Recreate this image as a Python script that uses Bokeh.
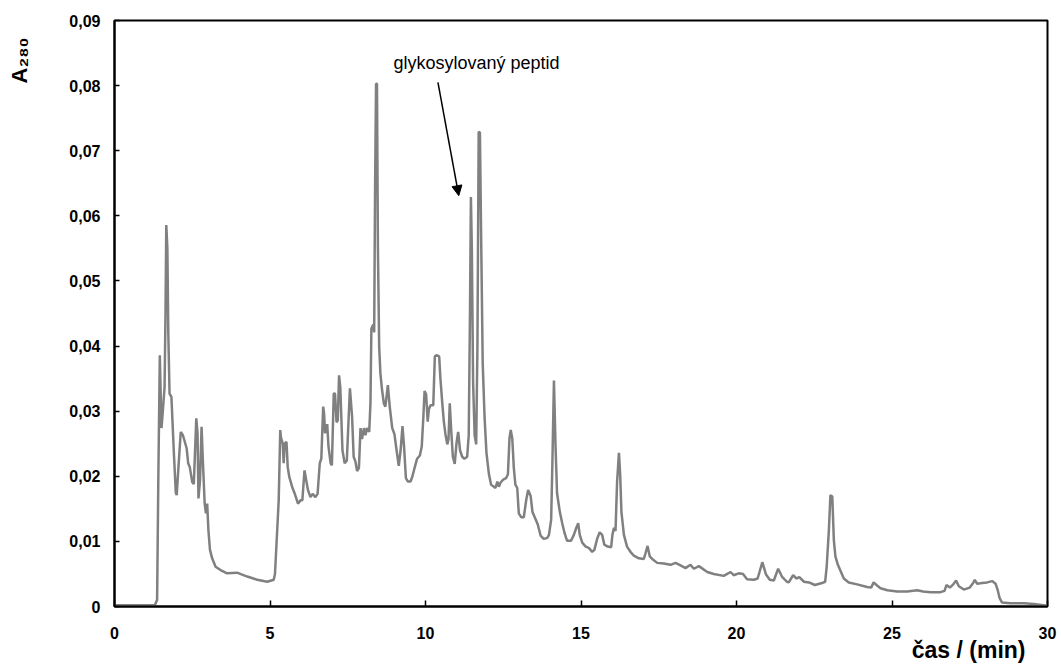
from bokeh.plotting import figure
from bokeh.models import (FixedTicker, CustomJSTickFormatter, Label, Arrow,
                          NormalHead, Range1d, Title)
from bokeh.embed import file_html
from bokeh.resources import INLINE

# ---- data ----
time_min = [
    0.0, 1.0, 1.3, 1.34, 1.37, 1.41, 1.457, 1.51, 1.54, 1.61, 1.64, 1.665, 1.70, 1.73, 1.77,
    1.83, 1.91, 1.97, 2.0, 2.05, 2.13, 2.2, 2.32, 2.37, 2.42, 2.5, 2.55, 2.63, 2.67, 2.7,
    2.75, 2.8, 2.84, 2.9, 2.94, 2.98, 3.02, 3.07, 3.14, 3.25, 3.41, 3.62, 3.94, 4.27, 4.59,
    4.91, 5.12, 5.16, 5.28, 5.33, 5.35, 5.41, 5.44, 5.47, 5.53, 5.57, 5.62, 5.71, 5.79, 5.9,
    5.98, 6.04, 6.11, 6.16, 6.22, 6.3, 6.37, 6.46, 6.53, 6.6, 6.65, 6.71, 6.74, 6.77, 6.84,
    6.88, 6.95, 6.99, 7.05, 7.09, 7.14, 7.18, 7.22, 7.26, 7.33, 7.4, 7.47, 7.57, 7.64, 7.69,
    7.75, 7.80, 7.86, 7.91, 7.96, 8.02, 8.07, 8.12, 8.19, 8.23, 8.26, 8.32, 8.35, 8.38, 8.41,
    8.44, 8.47, 8.51, 8.55, 8.6, 8.66, 8.71, 8.79, 8.85, 8.93, 9.0, 9.07, 9.14, 9.2, 9.26,
    9.31, 9.37, 9.43, 9.52, 9.58, 9.65, 9.73, 9.82, 9.88, 9.93, 9.97, 10.02, 10.07, 10.11, 10.16,
    10.25, 10.3, 10.35, 10.44, 10.48, 10.54, 10.59, 10.64, 10.7, 10.74, 10.78, 10.83, 10.88, 10.94, 11.0,
    11.05, 11.11, 11.18, 11.25, 11.34, 11.39, 11.43, 11.46, 11.49, 11.53, 11.58, 11.63, 11.67, 11.71, 11.75,
    11.79, 11.84, 11.9, 11.96, 12.04, 12.11, 12.2, 12.25, 12.31, 12.36, 12.41, 12.5, 12.59, 12.65, 12.7,
    12.74, 12.79, 12.84, 12.89, 12.95, 13.0, 13.08, 13.16, 13.24, 13.3, 13.38, 13.44, 13.54, 13.61, 13.7,
    13.8, 13.91, 13.97, 14.04, 14.08, 14.13, 14.18, 14.23, 14.32, 14.4, 14.47, 14.55, 14.68, 14.77, 14.85,
    14.91, 14.96, 15.04, 15.15, 15.25, 15.36, 15.43, 15.52, 15.6, 15.68, 15.75, 15.86, 15.97, 16.01, 16.06,
    16.11, 16.16, 16.22, 16.26, 16.3, 16.38, 16.48, 16.59, 16.7, 16.86, 17.02, 17.07, 17.14, 17.21, 17.29,
    17.45, 17.66, 17.88, 18.04, 18.2, 18.36, 18.52, 18.63, 18.79, 19.06, 19.27, 19.59, 19.81, 19.91, 20.07,
    20.21, 20.34, 20.56, 20.68, 20.83, 20.95, 21.07, 21.2, 21.34, 21.46, 21.62, 21.68, 21.82, 21.93, 22.02,
    22.17, 22.33, 22.52, 22.75, 22.85, 22.9, 22.97, 23.02, 23.08, 23.13, 23.18, 23.26, 23.35, 23.45, 23.61,
    23.88, 24.2, 24.33, 24.41, 24.5, 24.63, 24.85, 25.17, 25.49, 25.81, 26.0, 26.24, 26.56, 26.69, 26.75,
    26.86, 26.97, 27.06, 27.15, 27.31, 27.5, 27.61, 27.66, 27.74, 27.9, 28.06, 28.22, 28.33, 28.4, 28.46,
    28.54, 28.81, 29.24, 29.56, 30.0,
]
a280 = [
    0.0002, 0.0002, 0.0002, 0.0007, 0.0010, 0.020, 0.0386, 0.0274, 0.0291, 0.0337, 0.045, 0.0586, 0.055, 0.042, 0.0327,
    0.0322, 0.0235, 0.0175, 0.0171, 0.0209, 0.0268, 0.0263, 0.0243, 0.022, 0.0214, 0.0191, 0.0188, 0.0289, 0.0266, 0.0166,
    0.0194, 0.0276, 0.0225, 0.0158, 0.0143, 0.0158, 0.0117, 0.0087, 0.0074, 0.0061, 0.0056, 0.0051, 0.0052, 0.0046, 0.0041,
    0.0038, 0.0041, 0.005, 0.0163, 0.0271, 0.026, 0.025, 0.022, 0.025, 0.0253, 0.0214, 0.0199, 0.0184, 0.0174, 0.0158,
    0.0163, 0.0163, 0.0209, 0.0195, 0.0179, 0.0168, 0.0173, 0.0168, 0.0173, 0.022, 0.0227, 0.0307, 0.0296, 0.0266, 0.028,
    0.0246, 0.022, 0.0217, 0.0327, 0.0327, 0.0283, 0.0286, 0.0355, 0.0337, 0.024, 0.022, 0.0224, 0.0335, 0.0291, 0.023,
    0.0222, 0.0208, 0.0213, 0.0274, 0.0257, 0.0274, 0.0263, 0.0274, 0.0268, 0.0312, 0.0427, 0.0433, 0.0421, 0.065, 0.0803,
    0.0803, 0.055, 0.040, 0.0358, 0.0334, 0.0312, 0.0307, 0.034, 0.0307, 0.0274, 0.0265, 0.024, 0.0216, 0.024, 0.0277,
    0.0246, 0.0197, 0.0192, 0.0192, 0.02, 0.0213, 0.0227, 0.0232, 0.0246, 0.029, 0.0331, 0.0326, 0.0284, 0.0303, 0.0309,
    0.0309, 0.0384, 0.0386, 0.0384, 0.035, 0.0312, 0.0284, 0.0265, 0.0249, 0.0257, 0.0312, 0.0268, 0.023, 0.0219, 0.0252,
    0.0268, 0.024, 0.023, 0.0227, 0.023, 0.0263, 0.045, 0.0629, 0.055, 0.0345, 0.0263, 0.0249, 0.040, 0.0729, 0.0728,
    0.0564, 0.0373, 0.029, 0.0236, 0.0203, 0.0187, 0.0184, 0.0182, 0.0192, 0.0184, 0.019, 0.0195, 0.0197, 0.0203, 0.0258,
    0.0271, 0.0258, 0.0213, 0.0187, 0.0182, 0.0143, 0.0137, 0.0137, 0.0164, 0.0179, 0.017, 0.0145, 0.0134, 0.0126, 0.0109,
    0.0104, 0.0105, 0.011, 0.0133, 0.022, 0.0347, 0.0248, 0.0174, 0.0145, 0.0127, 0.0113, 0.0101, 0.0101, 0.011, 0.0121,
    0.0128, 0.011, 0.0098, 0.0092, 0.009, 0.0084, 0.0087, 0.0104, 0.0114, 0.011, 0.0095, 0.0092, 0.0091, 0.011, 0.0121,
    0.0116, 0.0191, 0.0236, 0.0202, 0.0145, 0.011, 0.0092, 0.0084, 0.0078, 0.0074, 0.0073, 0.0081, 0.0093, 0.0077, 0.0073,
    0.0067, 0.0066, 0.0064, 0.0067, 0.0063, 0.0059, 0.0064, 0.0058, 0.0062, 0.0053, 0.0050, 0.0047, 0.0053, 0.0048, 0.0051,
    0.005, 0.0042, 0.0041, 0.0043, 0.0068, 0.0049, 0.0041, 0.004, 0.0058, 0.0046, 0.0038, 0.0037, 0.0048, 0.0043, 0.0045,
    0.0038, 0.0037, 0.0033, 0.0036, 0.0038, 0.0061, 0.0117, 0.0171, 0.0169, 0.0102, 0.0077, 0.0064, 0.0054, 0.0043, 0.0037,
    0.0034, 0.003, 0.0029, 0.0037, 0.0033, 0.0028, 0.0025, 0.0023, 0.0023, 0.0025, 0.0023, 0.0022, 0.0022, 0.0024, 0.0033,
    0.0029, 0.0034, 0.004, 0.0031, 0.0026, 0.0029, 0.0036, 0.0041, 0.0035, 0.0036, 0.0037, 0.0039, 0.0035, 0.0025, 0.0013,
    0.0006, 0.0005, 0.0005, 0.0004, 0.0001,
]
x_ticks = [0, 5, 10, 15, 20, 25, 30]
y_ticks = [0.0, 0.01, 0.02, 0.03, 0.04, 0.05, 0.06, 0.07, 0.08, 0.09]
annotation_text = "glykosylovaný peptid"
annotation_xy = (8.97, 0.0835)
arrow_from = (10.40, 0.0805)
arrow_to = (11.07, 0.0631)
x_label = "čas / (min)"
y_label = "A\u2082\u2088\u2080"

FONT = "Liberation Sans"

p = figure(width=1061, height=668, output_backend="svg", toolbar_location=None,
           x_range=Range1d(0, 30), y_range=Range1d(0, 0.09),
           min_border_left=114, min_border_right=14, min_border_top=20,
           min_border_bottom=62)
p.background_fill_color = "white"
p.border_fill_color = "white"
p.outline_line_color = "black"
p.outline_line_width = 2
p.xgrid.visible = False
p.ygrid.visible = False

p.line(time_min, a280, line_color="#808080", line_width=2.5)

for ax in (p.xaxis, p.yaxis):
    ax.axis_line_color = "black"
    ax.axis_line_width = 2
    ax.major_tick_line_color = "black"
    ax.major_tick_line_width = 1.5
    ax.major_tick_out = 0
    ax.minor_tick_line_color = None
    ax.major_label_text_font = FONT
    ax.major_label_text_font_style = "bold"
    ax.major_label_text_font_size = "16px"
    ax.major_label_text_color = "black"
    ax.axis_label_text_font = FONT
    ax.axis_label_text_font_style = "bold"
    ax.axis_label_text_color = "black"

p.xaxis.ticker = FixedTicker(ticks=x_ticks)
p.xaxis.major_tick_in = 6
p.xaxis.major_label_standoff = 20

p.yaxis.ticker = FixedTicker(ticks=y_ticks)
p.yaxis.major_tick_in = 5
p.yaxis.major_label_standoff = 14
p.yaxis.formatter = CustomJSTickFormatter(
    code="return Math.abs(tick) < 1e-9 ? '0' : tick.toFixed(2).replace('.', ',');")
# leading em spaces push the visible title toward the top of the axis, as in the reference
p.yaxis.axis_label = "\u2003" * 23 + y_label
p.yaxis.axis_label_text_font_size = "22px"
p.yaxis.axis_label_standoff = 34

# x axis title, right aligned under the frame
xt = Title(text=x_label, align="right", offset=22, vertical_align="top",
           text_font=FONT, text_font_style="bold", text_font_size="23px",
           text_color="black")
try:
    xt.standoff = -9
except Exception:
    xt.standoff = 0
p.add_layout(xt, "below")

# annotation
p.add_layout(Label(x=annotation_xy[0], y=annotation_xy[1], text=annotation_text,
                   text_align="left", text_baseline="alphabetic",
                   text_font=FONT, text_font_size="18px", text_color="black"))
p.add_layout(Arrow(end=NormalHead(size=10, fill_color="black", line_color="black"),
                   x_start=arrow_from[0], y_start=arrow_from[1],
                   x_end=arrow_to[0], y_end=arrow_to[1],
                   line_color="black", line_width=1.5))

open("out.html", "w").write(file_html(p, INLINE))
